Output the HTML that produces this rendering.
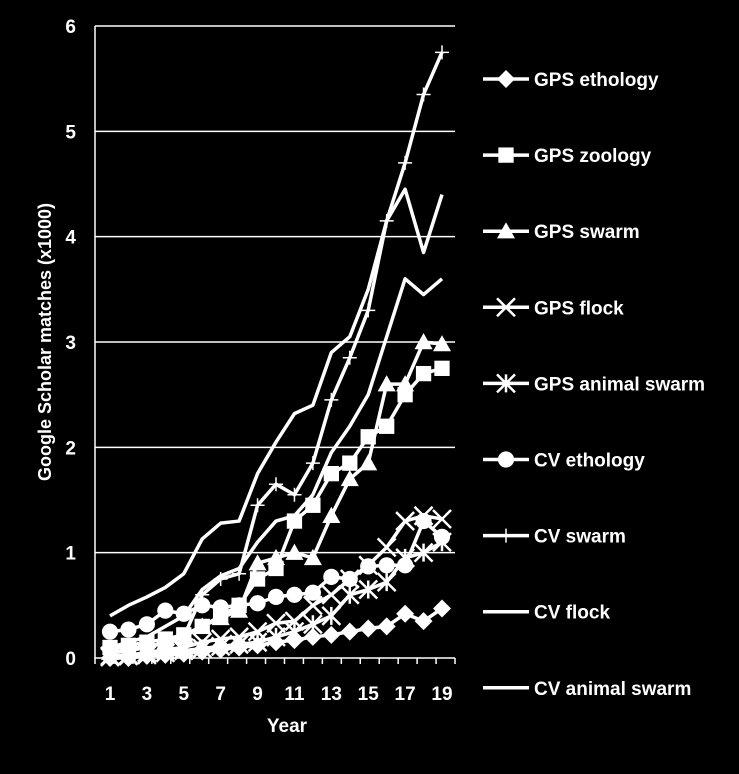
<!DOCTYPE html><html><head><meta charset="utf-8"><style>body{margin:0;background:#000}svg text{font-family:"Liberation Sans",sans-serif;font-weight:bold;fill:#fff}</style></head><body>
<svg width="739" height="769" id="c"></svg>
<script>
const years=[1,2,3,4,5,6,7,8,9,10,11,12,13,14,15,16,17,18,19];
const yTicks=[0,1,2,3,4,5,6];
const xTickLabels=[1,3,5,7,9,11,13,15,17,19];
const gpsEthology=[0,0,0.02,0.03,0.04,0.06,0.08,0.1,0.12,0.15,0.17,0.2,0.22,0.25,0.28,0.3,0.42,0.35,0.47];
const gpsZoology=[0.1,0.12,0.15,0.18,0.22,0.3,0.4,0.5,0.75,0.85,1.3,1.45,1.75,1.85,2.1,2.2,2.5,2.7,2.75];
const gpsSwarm=[0.05,0.07,0.1,0.15,0.2,0.3,0.38,0.45,0.9,0.95,1.0,0.95,1.35,1.7,1.85,2.6,2.6,3.0,2.98];
const gpsFlock=[0.02,0.03,0.05,0.08,0.1,0.15,0.18,0.2,0.25,0.33,0.35,0.5,0.6,0.75,0.88,1.05,1.3,1.35,1.32];
const gpsAnimalSwarm=[0.01,0.02,0.03,0.05,0.07,0.09,0.11,0.13,0.15,0.2,0.25,0.32,0.4,0.6,0.65,0.72,0.95,1.0,1.1];
const cvEthology=[0.25,0.27,0.32,0.45,0.42,0.5,0.48,0.5,0.52,0.58,0.6,0.62,0.77,0.75,0.87,0.88,0.88,1.3,1.15];
const cvSwarm=[0.05,0.08,0.1,0.15,0.2,0.6,0.75,0.8,1.45,1.65,1.55,1.85,2.45,2.85,3.3,4.15,4.7,5.35,5.75];
const cvFlock=[0.4,0.5,0.58,0.67,0.8,1.13,1.28,1.3,1.75,2.05,2.32,2.4,2.9,3.05,3.5,4.15,4.45,3.85,4.4];
const cvAnimalSwarm=[0.1,0.15,0.2,0.3,0.4,0.65,0.78,0.85,1.1,1.3,1.35,1.55,1.95,2.2,2.5,3.05,3.6,3.45,3.6];
const seriesNames=["GPS ethology","GPS zoology","GPS swarm","GPS flock","GPS animal swarm","CV ethology","CV swarm","CV flock","CV animal swarm"];
const seriesData=[gpsEthology,gpsZoology,gpsSwarm,gpsFlock,gpsAnimalSwarm,cvEthology,cvSwarm,cvFlock,cvAnimalSwarm];
const markers=["diamond","square","triangle","x","star","circle","plus","none","none"];
const svg=document.getElementById('c'),NS="http://www.w3.org/2000/svg";
const X0=95,X1=455,Y0=658,Y1=26;
const x=v=>110+(v-1)*(442-110)/18, y=v=>Y0-(Y0-Y1)*v/6;
function mk(t,a,p){const e=document.createElementNS(NS,t);for(const k in a)e.setAttribute(k,a[k]);(p||svg).appendChild(e);return e;}
yTicks.forEach(t=>{if(t>0){const g=mk('line',{x1:X0,x2:X1,y1:y(t),y2:y(t),stroke:'#fff','stroke-width':1.5});

}
const l=mk('text',{x:76,y:y(t)+7,'text-anchor':'end','font-size':19});l.textContent=t;

});
const ax=mk('line',{x1:X0,x2:X0,y1:Y1,y2:Y0+1,stroke:'#fff','stroke-width':1.5});


const bx=mk('line',{x1:X0,x2:X1,y1:Y0,y2:Y0,stroke:'#fff','stroke-width':1.5});


for(let i=0;i<=19;i++){const xx=X0+i*(X1-X0)/19;mk('line',{x1:xx,x2:xx,y1:Y0,y2:Y0+6,stroke:'#fff','stroke-width':1.5});}
xTickLabels.forEach(t=>{const l=mk('text',{x:x(t),y:700,'text-anchor':'middle','font-size':19});l.textContent=t;

});
const xt=mk('text',{x:287,y:732,'text-anchor':'middle','font-size':19});xt.textContent='Year';


const yt=mk('text',{x:0,y:0,'text-anchor':'middle','font-size':18,transform:'translate(51,342) rotate(-90)'});yt.textContent='Google Scholar matches (x1000)';


function marker(g,type,cx,cy,s){
 if(type==='diamond')mk('polygon',{points:`${cx},${cy-s} ${cx+s},${cy} ${cx},${cy+s} ${cx-s},${cy}`,fill:'#fff'},g);
 else if(type==='square')mk('rect',{x:cx-s*0.85,y:cy-s*0.85,width:s*1.7,height:s*1.7,fill:'#fff'},g);
 else if(type==='triangle')mk('polygon',{points:`${cx},${cy-s} ${cx+s},${cy+s*0.8} ${cx-s},${cy+s*0.8}`,fill:'#fff'},g);
 else if(type==='circle')mk('circle',{cx,cy,r:s*0.9,fill:'#fff'},g);
 else if(type==='x'){mk('path',{d:`M${cx-s},${cy-s}L${cx+s},${cy+s}M${cx-s},${cy+s}L${cx+s},${cy-s}`,stroke:'#fff','stroke-width':2.5},g);}
 else if(type==='star'){mk('path',{d:`M${cx-s},${cy-s}L${cx+s},${cy+s}M${cx-s},${cy+s}L${cx+s},${cy-s}M${cx},${cy-s}L${cx},${cy+s}`,stroke:'#fff','stroke-width':2.5},g);}
 else if(type==='plus'){mk('path',{d:`M${cx-s},${cy}L${cx+s},${cy}M${cx},${cy-s}L${cx},${cy+s}`,stroke:'#fff','stroke-width':1.5},g);}
}
seriesData.forEach((d,i)=>{
 const g=mk('g',{});
 
 
 mk('polyline',{points:d.map((v,j)=>x(years[j])+','+y(v)).join(' '),fill:'none',stroke:'#fff','stroke-width':3.5,'stroke-linejoin':'round'},g);
 d.forEach((v,j)=>marker(g,markers[i],x(years[j]),y(v),markers[i]==='plus'?7:9));
 const ly=79+i*76.1;
 const lg=mk('g',{});
 
 
 mk('line',{x1:483,x2:529,y1:ly,y2:ly,stroke:'#fff','stroke-width':3.5},lg);
 marker(lg,markers[i],506,ly,markers[i]==='plus'?7:9);
 const t=mk('text',{x:534,y:ly+7,'font-size':19},lg);t.textContent=seriesNames[i];
});
</script></body></html>
